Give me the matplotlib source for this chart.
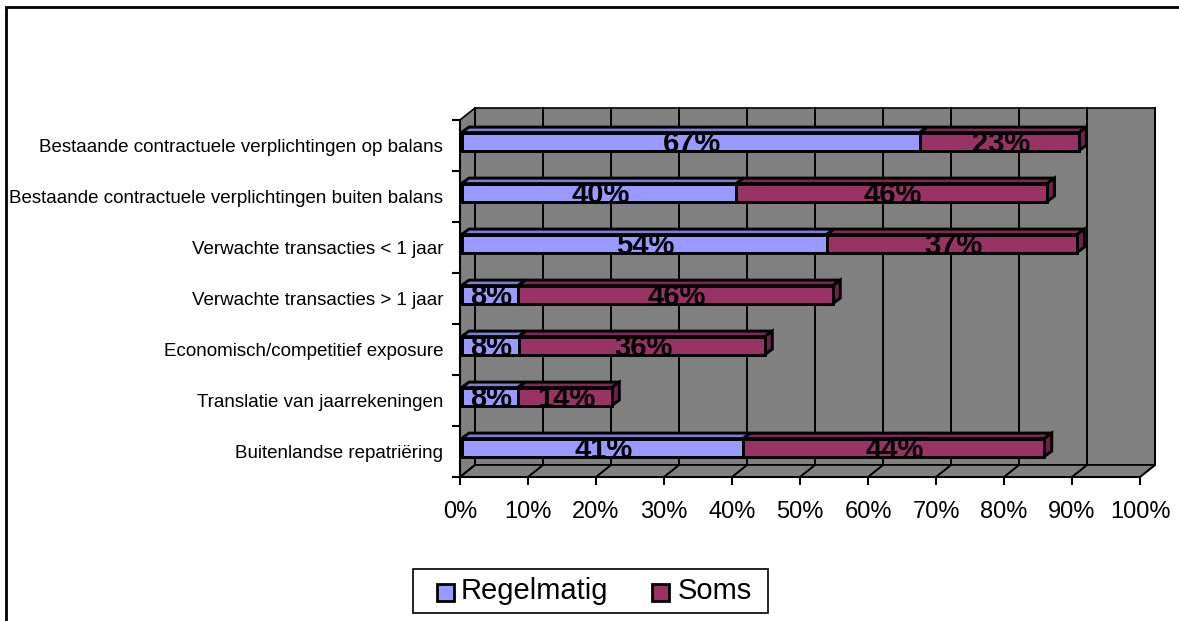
import matplotlib
matplotlib.use("Agg")
import matplotlib.pyplot as plt
from matplotlib.patches import Polygon, Rectangle
import numpy as np

plt.rcParams['font.family'] = ['Liberation Sans', 'DejaVu Sans']

# ---------------- data ----------------
categories = [
    "Bestaande contractuele verplichtingen op balans",
    "Bestaande contractuele verplichtingen buiten balans",
    "Verwachte transacties < 1 jaar",
    "Verwachte transacties > 1 jaar",
    "Economisch/competitief exposure",
    "Translatie van jaarrekeningen",
    "Buitenlandse repatriëring",
]
regelmatig = [67.4, 40.4, 53.7, 8.3, 8.4, 8.3, 41.4]
soms = [23.4, 45.7, 36.8, 46.3, 36.2, 13.8, 44.3]
series_names = ["Regelmatig", "Soms"]
xticks = list(range(0, 101, 10))
xtick_labels = [f"{t}%" for t in xticks]

# ---------------- style ----------------
W, H = 1179, 621
BLUE, BLUE_TOP, BLUE_END = "#9999FF", "#7f7fd6", "#6b6bb3"
MAROON, MAROON_TOP, MAROON_END = "#993366", "#7e2a54", "#6b2447"
WALL = "#808080"

fig = plt.figure(figsize=(W / 100, H / 100), dpi=100)
fig.patch.set_facecolor("white")

ax_left, ax_right, ax_top, ax_bot = 460, 1140, 120, 477
ax = fig.add_axes([ax_left / W, (H - ax_bot) / H, (ax_right - ax_left) / W, (ax_bot - ax_top) / H])
ax.set_xlim(0, 100)
ax.set_ylim(len(categories) - 0.5, -0.5)
ax.patch.set_visible(False)

px_x = (ax_right - ax_left) / 100.0
px_y = (ax_bot - ax_top) / len(categories)


def dxd(px):
    return px / px_x


def dyd(px):  # pixels upward -> data units (inverted y axis)
    return -px / px_y


BACK = (dxd(15), dyd(12))
BAR_FRONT = (dxd(1.5), dyd(3.9))
BAR_DEPTH = (dxd(7.5), dyd(5.5))
bar_h = 18 / px_y
y_top, y_bot = -0.5, len(categories) - 0.5

# walls
ax.add_patch(Rectangle((BACK[0], y_top + BACK[1]), 100, y_bot - y_top, facecolor=WALL,
                       edgecolor="black", lw=1.2, zorder=0.5, clip_on=False))
ax.add_patch(Polygon([(0, y_top), (BACK[0], y_top + BACK[1]), (BACK[0], y_bot + BACK[1]), (0, y_bot)],
                     closed=True, facecolor=WALL, edgecolor="black", lw=1.2, zorder=0.6, clip_on=False))
ax.add_patch(Polygon([(0, y_bot), (100, y_bot), (100 + BACK[0], y_bot + BACK[1]), (BACK[0], y_bot + BACK[1])],
                     closed=True, facecolor=WALL, edgecolor="black", lw=1.2, zorder=0.6, clip_on=False))

# gridlines on back wall and floor
for t in xticks:
    ax.plot([t + BACK[0]] * 2, [y_top + BACK[1], y_bot + BACK[1]], color="black", lw=1.4,
            zorder=1, clip_on=False)
    ax.plot([t, t + BACK[0]], [y_bot, y_bot + BACK[1]], color="black", lw=1.4, zorder=1, clip_on=False)

# bars
ypos = np.arange(len(categories))
lw_bar = 2.1
for i in ypos:
    segs = [(0, regelmatig[i], BLUE, BLUE_TOP, BLUE_END),
            (regelmatig[i], soms[i], MAROON, MAROON_TOP, MAROON_END)]
    yc = i + BAR_FRONT[1]
    yt, yb = yc - bar_h / 2, yc + bar_h / 2
    for k, (left, val, fc, tc, ec) in enumerate(segs):
        x0 = left + BAR_FRONT[0]
        x1 = x0 + val
        ax.add_patch(Polygon([(x0, yt), (x1, yt), (x1 + BAR_DEPTH[0], yt + BAR_DEPTH[1]),
                              (x0 + BAR_DEPTH[0], yt + BAR_DEPTH[1])], closed=True,
                             facecolor=tc, edgecolor="black", lw=lw_bar, zorder=3 + k, clip_on=False))
        if k == len(segs) - 1:
            ax.add_patch(Polygon([(x1, yt), (x1, yb), (x1 + BAR_DEPTH[0], yb + BAR_DEPTH[1]),
                                  (x1 + BAR_DEPTH[0], yt + BAR_DEPTH[1])], closed=True,
                                 facecolor=ec, edgecolor="black", lw=lw_bar, zorder=3 + k, clip_on=False))
        ax.barh(yc, val, left=x0, height=bar_h, color=fc, edgecolor="black", lw=lw_bar,
                zorder=3.5 + k, clip_on=False)
        ax.text(x0 + val / 2 + dxd(1.5), yb + 1.5 / px_y, f"{round(val)}%", ha="center", va="baseline",
                fontsize=21, fontweight="bold", color="black", zorder=10)

# axes styling
for s in ["top", "right"]:
    ax.spines[s].set_visible(False)
for s in ["left", "bottom"]:
    ax.spines[s].set_linewidth(1.5)
    ax.spines[s].set_color("black")
    ax.spines[s].set_zorder(2)

ax.set_xticks(xticks)
ax.set_xticklabels(xtick_labels)
ax.tick_params(axis="x", length=8 * 0.72, width=1.5, pad=11.5, labelsize=17, direction="out", colors="black")
ax.set_yticks(np.arange(-0.5, len(categories), 1.0))
ax.set_yticklabels([])
ax.set_yticks(ypos, minor=True)
ax.set_yticklabels(categories, minor=True)
ax.tick_params(axis="y", which="major", length=8 * 0.72, width=1.5, direction="out")
ax.tick_params(axis="y", which="minor", length=0, pad=12, labelsize=13.5)


# ---------------- legend (manual, figure pixels) ----------------
def fx(px):
    return px / W


def fy(py):
    return (H - py) / H


fig.add_artist(Rectangle((fx(413), fy(613)), (768 - 413) / W, 44 / H, transform=fig.transFigure,
                         facecolor="white", edgecolor="black", lw=1.2))
leg_items = [(series_names[0], BLUE, 437, 461), (series_names[1], MAROON, 652, 678)]
for name, col, sx, tx in leg_items:
    fig.add_artist(Rectangle((fx(sx), fy(601)), 17 / W, 17 / H, transform=fig.transFigure,
                             facecolor=col, edgecolor="black", lw=2.0))
    fig.text(fx(tx), fy(599), name, fontsize=21, ha="left", va="baseline", color="black")

# figure border (runs off the right and bottom edge)
fig.add_artist(Rectangle((fx(6), -0.05), 1.2, fy(7) + 0.05, transform=fig.transFigure,
                         fill=False, edgecolor="black", lw=2.0))

fig.savefig("out.png", dpi=100)
